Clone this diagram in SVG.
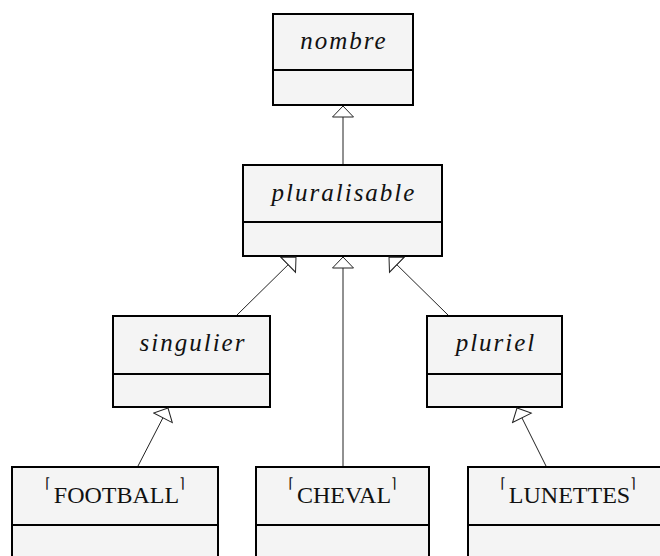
<svg xmlns="http://www.w3.org/2000/svg" width="660" height="556" viewBox="0 0 660 556">
<style>
.box{fill:#f4f4f4;stroke:#000;stroke-width:2}
.div{stroke:#000;stroke-width:2}
.it{font-family:"Liberation Serif","Times New Roman",serif;font-style:italic;font-size:25px;letter-spacing:2px;text-anchor:middle;fill:#111}
.up{font-family:"Liberation Serif","Times New Roman",serif;font-size:24px;text-anchor:middle;fill:#111}
.br{font-family:"DejaVu Sans",sans-serif;font-size:14px}
.edge{stroke:#222;stroke-width:1;fill:none;marker-end:url(#tri)}
</style>
<defs>
<marker id="tri" markerUnits="userSpaceOnUse" orient="auto" viewBox="-1 -1 13 23" markerWidth="13" markerHeight="23" refX="11" refY="10.5">
<path d="M11,10.5 L0,0 L0,21 Z" fill="#fff" stroke="#222" stroke-width="1"/>
</marker>
</defs>
<g id="nombre">
<rect class="box" x="273" y="14" width="140" height="91"/>
<line class="div" x1="273" y1="70" x2="413" y2="70"/>
<text class="it" x="344" y="49">nombre</text>
</g>
<g id="pluralisable">
<rect class="box" x="243" y="165" width="199" height="91"/>
<line class="div" x1="243" y1="222" x2="442" y2="222"/>
<text class="it" x="344" y="201">pluralisable</text>
</g>
<g id="singulier">
<rect class="box" x="113" y="316" width="157" height="91"/>
<line class="div" x1="113" y1="374" x2="270" y2="374"/>
<text class="it" x="193" y="351">singulier</text>
</g>
<g id="pluriel">
<rect class="box" x="427" y="316" width="135" height="91"/>
<line class="div" x1="427" y1="374" x2="562" y2="374"/>
<text class="it" x="496" y="351">pluriel</text>
</g>
<g id="football">
<rect class="box" x="12" y="467" width="206" height="95"/>
<line class="div" x1="12" y1="525" x2="218" y2="525"/>
<text class="up" x="115" y="503"><tspan class="br" dy="-15">⌈</tspan><tspan dy="15" dx="3">FOOTBALL</tspan><tspan class="br" dy="-15">⌉</tspan></text>
</g>
<g id="cheval">
<rect class="box" x="256" y="467" width="173" height="95"/>
<line class="div" x1="256" y1="525" x2="429" y2="525"/>
<text class="up" x="342.5" y="503"><tspan class="br" dy="-15">⌈</tspan><tspan dy="15" dx="3">CHEVAL</tspan><tspan class="br" dy="-15">⌉</tspan></text>
</g>
<g id="lunettes">
<rect class="box" x="468" y="467" width="200" height="95"/>
<line class="div" x1="468" y1="525" x2="668" y2="525"/>
<text class="up" x="568" y="503"><tspan class="br" dy="-15">⌈</tspan><tspan dy="15" dx="3">LUNETTES</tspan><tspan class="br" dy="-15">⌉</tspan></text>
</g>
<g id="connectors">
<line class="edge" x1="343" y1="164" x2="343" y2="106"/>
<line class="edge" x1="237" y1="315" x2="296" y2="257"/>
<line class="edge" x1="448" y1="315" x2="389" y2="257"/>
<line class="edge" x1="343" y1="466" x2="343" y2="257"/>
<line class="edge" x1="138" y1="466" x2="168" y2="408"/>
<line class="edge" x1="546" y1="466" x2="517" y2="408"/>
</g>
</svg>
